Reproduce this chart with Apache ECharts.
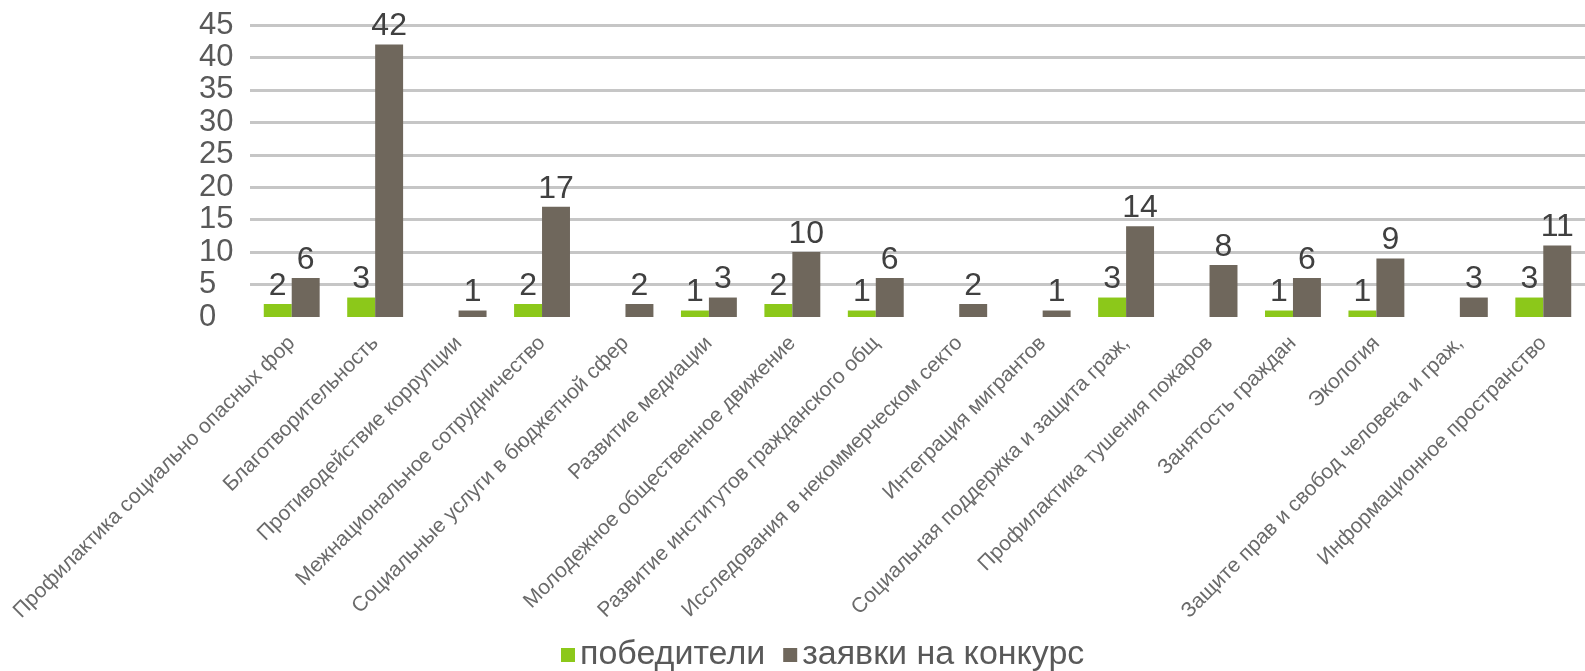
<!DOCTYPE html>
<html>
<head>
    <meta charset="utf-8">
    <title>Конкурс</title>
    <script src="https://cdn.jsdelivr.net/npm/echarts@6/dist/echarts.min.js"></script>
    <style>
        html, body { margin: 0; padding: 0; background: #fff; }
        #main { width: 1585px; height: 671px; }
    </style>
</head>
<body>
<div id="main"></div>
<script>
    // categories as shown (labels are truncated in the original)
    var categories = [
        'Профилактика социально опасных фор',
        'Благотворительность',
        'Противодействие коррупции',
        'Межнациональное сотрудничество',
        'Социальные услуги в бюджетной сфер',
        'Развитие медиации',
        'Молодежное общественное движение',
        'Развитие институтов гражданского общ',
        'Исследования в некоммерческом секто',
        'Интеграция мигрантов',
        'Социальная поддержка и защита граж,',
        'Профилактика тушения пожаров',
        'Занятость граждан',
        'Экология',
        'Защите прав и свобод человека и граж,',
        'Информационное пространство'
    ];
    var winners = [2, 3, 0, 2, 0, 1, 2, 1, 0, 0, 3, 0, 1, 1, 0, 3];
    var applications = [6, 42, 1, 17, 2, 3, 10, 6, 2, 1, 14, 8, 6, 9, 3, 11];
    var yTicks = { min: 0, max: 45, step: 5 };

    var font = 'Arial, "Liberation Sans", sans-serif';
    // no line at zero, grey lines from 5 up
    var gridColors = ['rgba(0,0,0,0)'];
    for (var i = 0; i < 9; i++) gridColors.push('#c6c6c6');

    function hideZero(p) {
        return p.value === 0 ? '' : p.value;
    }

    var myChart = echarts.init(document.getElementById('main'));
    var option = {
        animation: false,
        textStyle: { fontFamily: font },
        grid: { left: 250, right: 0, top: 25, bottom: 354, containLabel: false },
        legend: {
            top: 633,
            left: 556,
            itemWidth: 14,
            itemHeight: 14,
            itemGap: 18,
            icon: 'rect',
            textStyle: { fontSize: 34, color: '#595959', fontFamily: font },
            data: ['победители', 'заявки на конкурс']
        },
        xAxis: {
            type: 'category',
            data: categories,
            axisLine: { show: false },
            axisTick: { show: false },
            axisLabel: {
                interval: 0,
                rotate: 45,
                margin: 23,
                fontSize: 21,
                color: '#6a6a6a',
                fontFamily: font
            }
        },
        yAxis: {
            type: 'value',
            min: yTicks.min,
            max: yTicks.max,
            interval: yTicks.step,
            axisLine: { show: false },
            axisTick: { show: false },
            axisLabel: {
                align: 'left',
                margin: 51,
                fontSize: 31,
                color: '#595959',
                fontFamily: font
            },
            splitLine: { lineStyle: { color: gridColors, width: 3 } }
        },
        series: [{
            name: 'победители',
            type: 'bar',
            data: winners,
            barGap: '0%',
            barCategoryGap: '33%',
            itemStyle: { color: '#8cc81a' },
            label: {
                show: true, position: 'top', distance: 2,
                fontSize: 32, color: '#404040', fontFamily: font,
                formatter: hideZero
            }
        }, {
            name: 'заявки на конкурс',
            type: 'bar',
            data: applications,
            barGap: '0%',
            barCategoryGap: '33%',
            itemStyle: { color: '#6f675c' },
            label: {
                show: true, position: 'top', distance: 2,
                fontSize: 32, color: '#404040', fontFamily: font,
                formatter: hideZero
            }
        }]
    };
    myChart.setOption(option);
</script>
</body>
</html>
